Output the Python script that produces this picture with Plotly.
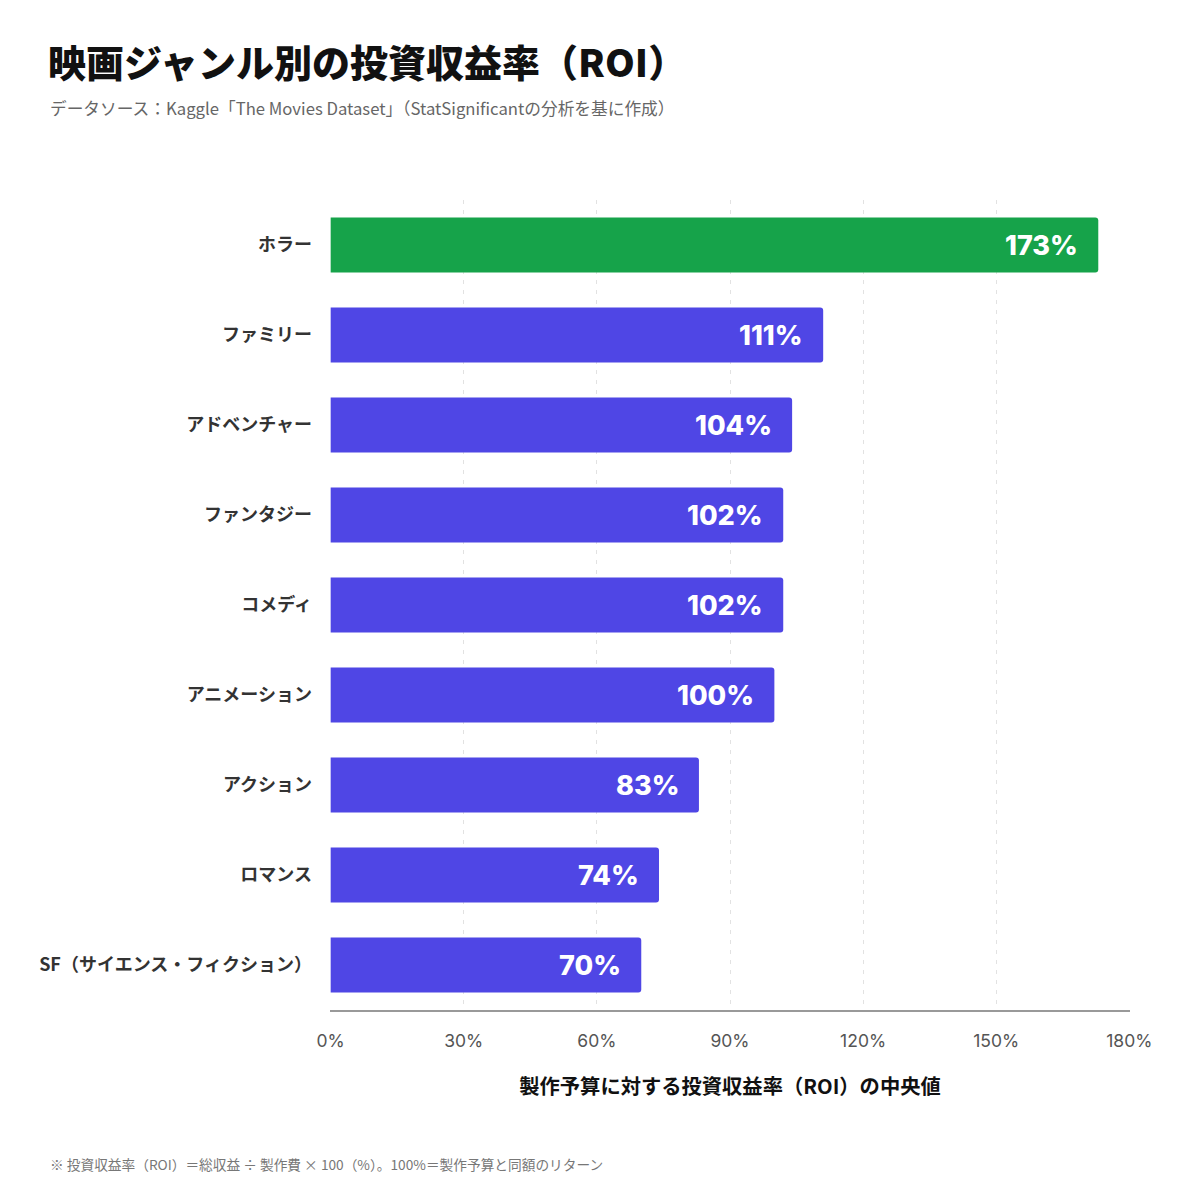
import plotly.graph_objects as go

genres = ['ホラー', 'ファミリー', 'アドベンチャー', 'ファンタジー', 'コメディ',
          'アニメーション', 'アクション', 'ロマンス', 'SF（サイエンス・フィクション）']
roi = [173, 111, 104, 102, 102, 100, 83, 74, 70]
highlight = 'ホラー'
tick_vals = [0, 30, 60, 90, 120, 150, 180]
tick_text = [f'{v}%' for v in tick_vals]

jp_font = 'Noto Sans CJK JP'
colors = ['#16A34A' if g == highlight else '#4F46E5' for g in genres]

fig = go.Figure()
fig.add_trace(go.Bar(
    x=roi, y=genres, orientation='h',
    marker=dict(color=colors, line=dict(width=0)),
    width=0.61,
    hoverinfo='skip',
))

# value labels inside the bar ends
for g, v in zip(genres, roi):
    fig.add_annotation(x=v, y=g, text=f'{v}%', showarrow=False,
                       xanchor='right', xshift=-18, yshift=0,
                       font=dict(family='Inter', size=27, color='white', weight=800))

fig.update_layout(
    width=1200, height=1200,
    margin=dict(l=322, r=78, t=192, b=198),
    paper_bgcolor='white', plot_bgcolor='white',
    barcornerradius=3,
    showlegend=False,
    font=dict(family=jp_font, color='#333333'),
    title=dict(text='映画ジャンル別の投資収益率（ROI）', x=0.0333, xanchor='left',
               y=0.954, yanchor='middle',
               font=dict(family=jp_font, size=38, color='#111111', weight=900)),
)
fig.add_annotation(text='データソース：Kaggle「The Movies Dataset」（StatSignificantの分析を基に作成）',
                   xref='paper', yref='paper', x=-0.3525, y=1.1136, xanchor='left', yanchor='middle',
                   showarrow=False, font=dict(family=jp_font, size=16.7, color='#666666'))
fig.add_annotation(text='※ 投資収益率（ROI）＝総収益 ÷ 製作費 × 100（%）。100%＝製作予算と同額のリターン',
                   xref='paper', yref='paper', x=-0.3525, y=-0.190, xanchor='left', yanchor='middle',
                   showarrow=False, font=dict(family=jp_font, size=13.7, color='#777777'))

fig.update_xaxes(
    range=[-0.15, 180.15], tickvals=tick_vals, ticktext=tick_text,
    showgrid=True, gridcolor='#E2E2E2', griddash='4px,6px', gridwidth=1,
    zeroline=False,
    showline=True, linecolor='#999999', linewidth=2,
    ticks='', ticklabelstandoff=14,
    tickfont=dict(family='Inter', size=17.5, color='#555555'),
    title=dict(text='製作予算に対する投資収益率（ROI）の中央値', standoff=30,
               font=dict(family=jp_font, size=20.3, color='#111111', weight=700)),
    fixedrange=True,
)
fig.update_yaxes(
    autorange='reversed', showgrid=False, zeroline=False, showline=False,
    ticks='', ticklabelstandoff=17,
    tickfont=dict(family=jp_font, size=18, color='#333333', weight=700),
    fixedrange=True,
)

fig.write_html('out.html')
